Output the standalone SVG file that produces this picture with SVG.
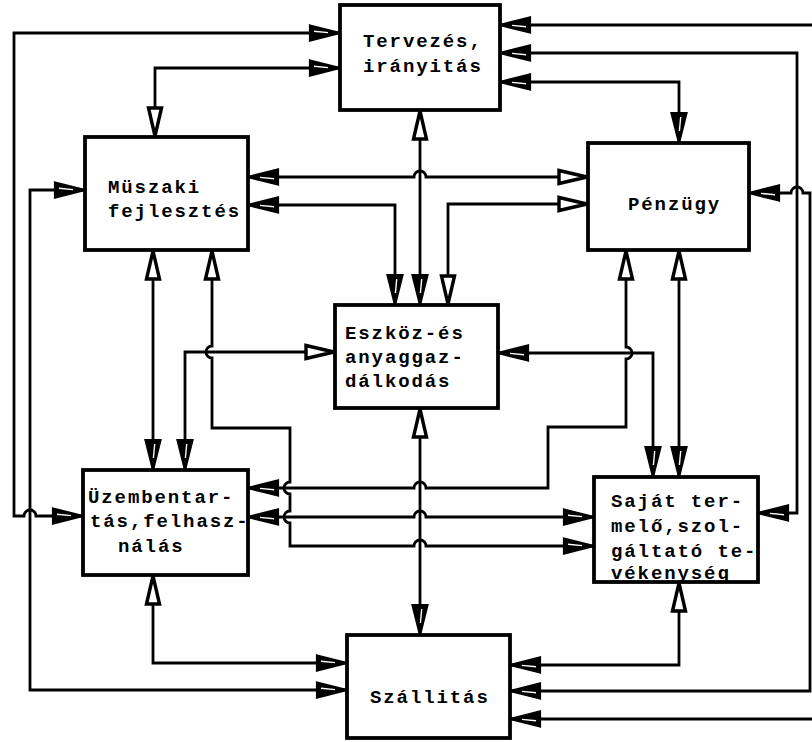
<svg xmlns="http://www.w3.org/2000/svg" width="812" height="742" viewBox="0 0 812 742">
<style>
.box{fill:#fff;stroke:#000;stroke-width:3.8}
.lbl{font-family:"Liberation Mono","DejaVu Sans Mono",monospace;font-size:19px;font-weight:bold;letter-spacing:1.9px;fill:#000}
.c{fill:none;stroke:#000;stroke-width:2.8;stroke-linejoin:miter}
</style>
<defs>
<marker id="f" viewBox="0 0 32 16" refX="31" refY="8" markerWidth="32" markerHeight="16" markerUnits="userSpaceOnUse" orient="auto-start-reverse" overflow="visible">
<path d="M1,0.5 L31,8 L1,15.5 Z" fill="#000" stroke="#000" stroke-width="2.2"/>
<path d="M5,6.3 L19,7.6" stroke="#fff" stroke-width="1.4" fill="none"/>
</marker>
<marker id="o" viewBox="0 0 32 16" refX="31" refY="8" markerWidth="32" markerHeight="16" markerUnits="userSpaceOnUse" orient="auto-start-reverse" overflow="visible">
<path d="M2,1.5 L30,8 L2,14.5 Z" fill="#fff" stroke="#000" stroke-width="3.4"/>
</marker>
</defs>
<g id="connectors">
<path class="c" d="M340,33 H14 V516 H24 A6,6 0 0 1 36,516 H83" marker-start="url(#f)" marker-end="url(#f)"/>
<path class="c" d="M85,190 H30 V690 H347" marker-start="url(#f)" marker-end="url(#f)"/>
<path class="c" d="M340,68 H155 V137" marker-start="url(#f)" marker-end="url(#o)"/>
<path class="c" d="M500,25 H812" marker-start="url(#f)"/>
<path class="c" d="M500,53 H797 V513 H758" marker-start="url(#f)" marker-end="url(#f)"/>
<path class="c" d="M500,82 H679 V143" marker-start="url(#f)" marker-end="url(#f)"/>
<path class="c" d="M420,110 V305" marker-start="url(#o)" marker-end="url(#f)"/>
<path class="c" d="M248,177 H414 A6,6 0 0 1 426,177 H588" marker-start="url(#f)" marker-end="url(#o)"/>
<path class="c" d="M248,205 H395 V305" marker-start="url(#f)" marker-end="url(#f)"/>
<path class="c" d="M588,204 H448 V305" marker-start="url(#o)" marker-end="url(#o)"/>
<path class="c" d="M153,250 V470" marker-start="url(#o)" marker-end="url(#f)"/>
<path class="c" d="M212,250 V346 A6,6 0 0 0 212,358 V428 H290 V482 A6,6 0 0 0 290,494 V511 A6,6 0 0 0 290,523 V546 H414 A6,6 0 0 1 426,546 H594" marker-start="url(#o)" marker-end="url(#f)"/>
<path class="c" d="M335,352 H185 V470" marker-start="url(#o)" marker-end="url(#f)"/>
<path class="c" d="M498,353 H653 V477" marker-start="url(#f)" marker-end="url(#f)"/>
<path class="c" d="M626,250 V347 A6,6 0 0 1 626,359 V427 H548 V488 H426 A6,6 0 0 0 414,488 H248" marker-start="url(#o)" marker-end="url(#f)"/>
<path class="c" d="M679,250 V477" marker-start="url(#o)" marker-end="url(#f)"/>
<path class="c" d="M248,517 H414 A6,6 0 0 1 426,517 H594" marker-start="url(#f)" marker-end="url(#f)"/>
<path class="c" d="M420,408 V635" marker-start="url(#o)" marker-end="url(#f)"/>
<path class="c" d="M153,575 V663 H347" marker-start="url(#o)" marker-end="url(#f)"/>
<path class="c" d="M679,582 V665 H510" marker-start="url(#o)" marker-end="url(#f)"/>
<path class="c" d="M749,193 H791 A6,6 0 0 1 803,193 H810 V691 H510" marker-start="url(#f)" marker-end="url(#f)"/>
<path class="c" d="M510,719 H812" marker-start="url(#f)"/>
</g>
<g id="tervezes">
<rect class="box" x="340" y="5" width="160" height="105"/>
<text class="lbl" x="363" y="47">Tervezés,</text>
<text class="lbl" x="363" y="72">irányitás</text>
</g>
<g id="muszaki">
<rect class="box" x="85" y="137" width="163" height="113"/>
<text class="lbl" x="108" y="193">Müszaki</text>
<text class="lbl" x="108" y="217">fejlesztés</text>
</g>
<g id="penzugy">
<rect class="box" x="588" y="143" width="161" height="107"/>
<text class="lbl" x="628" y="210">Pénzügy</text>
</g>
<g id="eszkoz">
<rect class="box" x="335" y="305" width="163" height="103"/>
<text class="lbl" x="345" y="339">Eszköz-és</text>
<text class="lbl" x="345" y="363">anyaggaz-</text>
<text class="lbl" x="345" y="387">dálkodás</text>
</g>
<g id="uzembentartas">
<rect class="box" x="83" y="470" width="165" height="105"/>
<text class="lbl" x="88" y="503">Üzembentar-</text>
<text class="lbl" x="90" y="527">tás,felhasz-</text>
<text class="lbl" x="118" y="552">nálás</text>
</g>
<g id="sajat">
<rect class="box" x="594" y="477" width="164" height="105"/>
<text class="lbl" x="611" y="507">Saját ter-</text>
<text class="lbl" x="611" y="532">melő,szol-</text>
<text class="lbl" x="611" y="557">gáltató te-</text>
<text class="lbl" x="611" y="579">vékenység</text>
</g>
<g id="szallitas">
<rect class="box" x="347" y="635" width="163" height="103"/>
<text class="lbl" x="370" y="703">Szállitás</text>
</g>
</svg>
